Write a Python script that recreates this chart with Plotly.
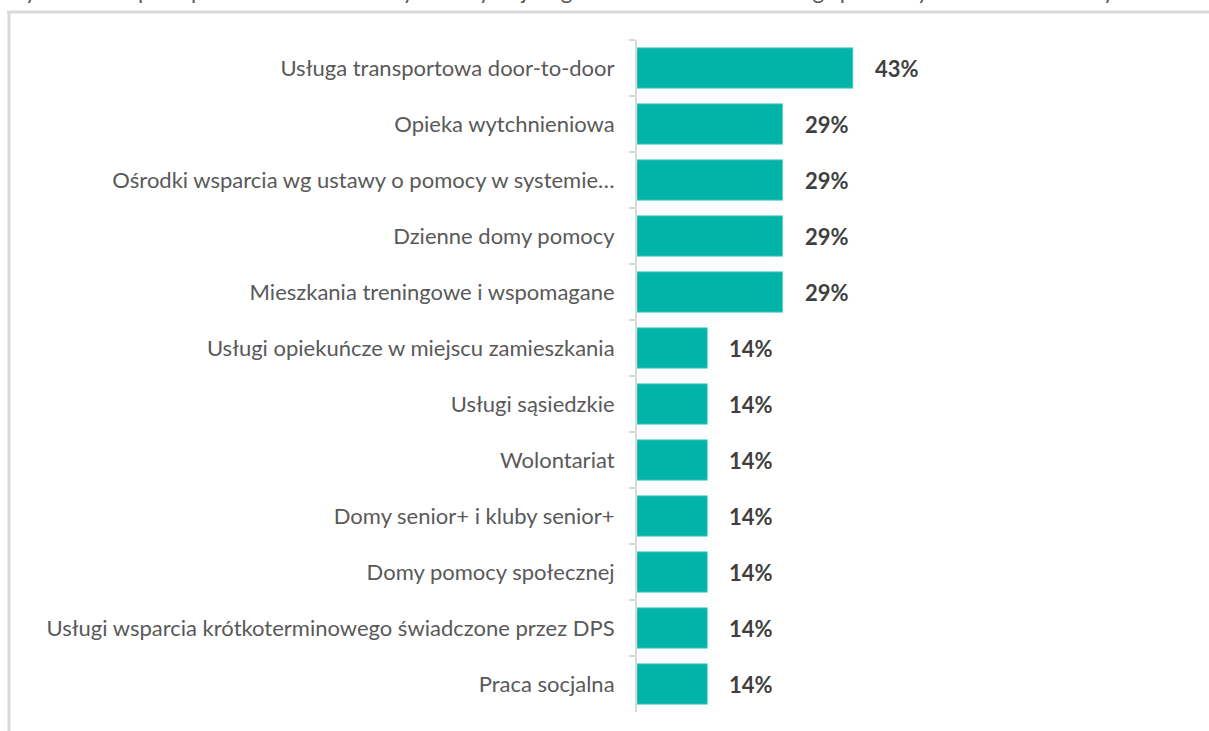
import plotly.graph_objects as go

# Services missing for older people, as reported by municipal institutions
categories = [
    "Usługa transportowa door-to-door",
    "Opieka wytchnieniowa",
    "Ośrodki wsparcia wg ustawy o pomocy w systemie…",
    "Dzienne domy pomocy",
    "Mieszkania treningowe i wspomagane",
    "Usługi opiekuńcze w miejscu zamieszkania",
    "Usługi sąsiedzkie",
    "Wolontariat",
    "Domy senior+ i kluby senior+",
    "Domy pomocy społecznej",
    "Usługi wsparcia krótkoterminowego świadczone przez DPS",
    "Praca socjalna",
]
values = [43, 29, 29, 29, 29, 14, 14, 14, 14, 14, 14, 14]
value_labels = [f"{v}%" for v in values]

title_text = ("Wykres 71. Opinia przedstawicieli badanych instytucji w gminach "
              "co do braku usług społecznych dla osób starszych.")

W, H = 1209, 731
ML, MR, MT, MB = 637, 69, 40, 19
PW, PH = W - ML - MR, H - MT - MB

BAR = "#02b3a7"
GRID = "#d9d9d9"
FONT = "Lato"

fig = go.Figure(
    go.Bar(
        x=values,
        y=categories,
        orientation="h",
        marker=dict(color=BAR, line=dict(color="#5ccfc6", width=0.8)),
        width=0.72,
        hoverinfo="skip",
    )
)

# value labels to the right of each bar
for cat, v, lab in zip(categories, values, value_labels):
    fig.add_annotation(
        x=v, y=cat, xref="x", yref="y", text=f"<b>{lab}</b>",
        showarrow=False, xanchor="left", yanchor="middle", xshift=20,
        font=dict(family=FONT, size=22, color="#404040"),
    )

# chart title (sits at the very top edge)
fig.add_annotation(
    x=-ML / PW, y=1 + (MT - 6) / PH, xref="paper", yref="paper",
    text=title_text, showarrow=False, xanchor="left", yanchor="bottom",
    font=dict(family=FONT, size=22.5, color="#595959"),
)

def px_x(px):
    return (px - ML) / PW

def px_y(py):
    return 1 - (py - MT) / PH

# light frame around the chart area
fig.add_shape(type="line", xref="paper", yref="paper",
              x0=px_x(7), x1=px_x(W + 5), y0=px_y(12), y1=px_y(12),
              line=dict(color=GRID, width=3))
fig.add_shape(type="line", xref="paper", yref="paper",
              x0=px_x(9), x1=px_x(9), y0=px_y(11), y1=px_y(H + 5),
              line=dict(color=GRID, width=3))

fig.update_layout(
    width=W, height=H,
    margin=dict(l=ML, r=MR, t=MT, b=MB, pad=0),
    plot_bgcolor="white", paper_bgcolor="white",
    showlegend=False,
    font=dict(family=FONT, size=22, color="#595959"),
    xaxis=dict(range=[0, PW / 5.02], visible=False, fixedrange=True),
    yaxis=dict(
        autorange="reversed",
        showline=True, linecolor=GRID, linewidth=2,
        ticks="outside", ticklen=6, tickcolor=GRID, tickwidth=2,
        tickson="boundaries", ticklabelstandoff=16,
        showgrid=False, zeroline=False,
        tickfont=dict(family=FONT, size=22, color="#595959"),
    ),
)

fig.write_html("out.html")
